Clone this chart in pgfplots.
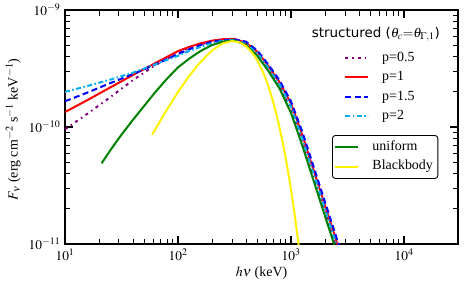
\documentclass[border=0pt]{standalone}
\usepackage{mathptmx}
\usepackage{fontspec}
\setmainfont{Liberation Serif}
\newfontfamily\dejavu{DejaVu Sans}
\usepackage{pgfplots}
\pgfplotsset{compat=1.18}
\definecolor{mypurple}{rgb}{0.5,0,0.5}
\definecolor{mygreen}{rgb}{0,0.5,0}
\pgfplotsset{legend image code/.code={\draw[#1] (0bp,0bp) -- (23bp,0bp);}}
\begin{document}
\fontsize{13.5}{16}\selectfont
\begin{tikzpicture}
\begin{axis}[
  at={(65bp,40bp)}, anchor=south west,
  scale only axis, width=393bp, height=234bp,
  xmode=log, ymode=log,
  xmin=10, xmax=3e4, ymin=1e-11, ymax=1e-9,
  xtick={10,100,1000,10000}, ytick={1e-11,1e-10,1e-9},
  tick align=inside,
  major tick length=8bp, minor tick length=5.5bp,
  tick style={black, line width=0.9bp},
  major tick style={line width=1.4bp},
  axis line style={line width=1.1bp},
  xlabel={$h\nu$ (keV)},
  ylabel={$F_\nu$ (erg cm$^{-2}$ s$^{-1}$ keV$^{-1}$)},
  every axis x label/.style={at={(axis description cs:0.5,-0.124)},anchor=center,font=\fontsize{14}{16}\selectfont},
  every axis y label/.style={at={(axis description cs:-0.132,0.49)},anchor=center,rotate=90,font=\fontsize{14}{16}\selectfont},
  legend style={at={(rel axis cs:0.71,0.838)}, anchor=north west, draw=none, fill=none,
    inner sep=0pt, row sep=0pt, column sep=10bp, font=\fontsize{14}{16}\selectfont,
    nodes={inner xsep=3bp, inner ysep=3.5bp, text height=9.5bp, text depth=3bp}},
  legend cell align=left,
]
\addplot[mypurple, line width=2bp, dash pattern=on 3bp off 4bp on 1.5bp off 4bp] coordinates {
(10,9.55e-11) (15.85,1.303e-10) (25.12,1.799e-10) (39.81,2.512e-10) (63.10,3.388e-10) (100,4.266e-10) (125.9,4.732e-10) (158.5,5.093e-10) (199.5,5.370e-10) (251.2,5.521e-10) (316.2,5.521e-10) (398.1,5.070e-10) (501.2,4.169e-10) (631.0,3.105e-10) (794.3,2.208e-10) (1000,1.400e-10) (1259,7.413e-11) (1585,3.715e-11) (1995,1.862e-11) (2512,9.33e-12) (3162,4.68e-12)};
\addlegendentry{p=0.5}
\addplot[red, line width=2bp] coordinates {
(10,1.343e-10) (15.85,1.702e-10) (25.12,2.178e-10) (39.81,2.780e-10) (63.10,3.524e-10) (100,4.457e-10) (125.9,4.842e-10) (158.5,5.188e-10) (199.5,5.470e-10) (251.2,5.636e-10) (316.2,5.662e-10) (398.1,5.248e-10) (501.2,4.416e-10) (631.0,3.311e-10) (794.3,2.399e-10) (1000,1.585e-10) (1259,8.51e-11) (1585,4.266e-11) (1995,2.138e-11) (2512,1.072e-11) (3162,5.37e-12)};
\addlegendentry{p=1}
\addplot[blue, line width=2bp, dash pattern=on 6bp off 3.5bp] coordinates {
(10,1.660e-10) (15.85,1.972e-10) (25.12,2.371e-10) (39.81,2.831e-10) (63.10,3.428e-10) (100,4.207e-10) (125.9,4.624e-10) (158.5,5.012e-10) (199.5,5.346e-10) (251.2,5.546e-10) (316.2,5.598e-10) (398.1,5.370e-10) (501.2,4.519e-10) (631.0,3.412e-10) (794.3,2.483e-10) (1000,1.652e-10) (1259,9.06e-11) (1585,4.571e-11) (1995,2.291e-11) (2512,1.148e-11) (3162,5.75e-12)};
\addlegendentry{p=1.5}
\addplot[cyan, line width=2bp, dash pattern=on 5bp off 2.5bp on 1.5bp off 2.5bp] coordinates {
(10,1.995e-10) (15.85,2.244e-10) (25.12,2.541e-10) (39.81,2.911e-10) (63.10,3.436e-10) (100,4.064e-10) (125.9,4.467e-10) (158.5,4.842e-10) (199.5,5.212e-10) (251.2,5.470e-10) (316.2,5.559e-10) (398.1,5.129e-10) (501.2,4.295e-10) (631.0,3.206e-10) (794.3,2.301e-10) (1000,1.489e-10) (1259,7.943e-11) (1585,3.981e-11) (1995,1.995e-11) (2512,1.0e-11) (3162,5.01e-12)};
\addlegendentry{p=2}
\addplot[mygreen, line width=2bp, forget plot] coordinates {
(21.09,4.898e-11) (25.12,6.310e-11) (31.62,8.610e-11) (39.81,1.148e-10) (50.12,1.514e-10) (63.10,1.995e-10) (79.43,2.570e-10) (100,3.236e-10) (125.9,3.846e-10) (158.5,4.467e-10) (199.5,5.012e-10) (251.2,5.370e-10) (316.2,5.495e-10) (398.1,5.012e-10) (501.2,4.074e-10) (631.0,3.006e-10) (794.3,2.118e-10) (1000,1.315e-10) (1259,6.918e-11) (1585,3.467e-11) (1995,1.738e-11) (2512,8.71e-12) (3162,4.37e-12)};
\addplot[yellow, line width=2bp, forget plot] coordinates {
(58.9,8.55e-11) (70,1.141e-10) (80,1.415e-10) (100,1.990e-10) (125,2.716e-10) (150,3.401e-10) (200,4.518e-10) (250,5.196e-10) (300,5.430e-10) (350,5.297e-10) (400,4.903e-10) (450,4.353e-10) (500,3.737e-10) (550,3.119e-10) (600,2.546e-10) (650,2.032e-10) (700,1.595e-10) (750,1.235e-10) (800,9.42e-11) (850,7.12e-11) (900,5.32e-11) (950,3.936e-11) (1000,2.890e-11) (1050,2.105e-11) (1100,1.524e-11) (1150,1.096e-11) (1200,7.85e-12)};
\node[anchor=center, inner sep=0pt] at (rel axis cs:0.791,0.897) {{\dejavu structured (}$\theta_c{=}\theta_{\Gamma,1}${\dejavu )}};
\end{axis}
\begin{axis}[
  at={(65bp,40bp)}, anchor=south west,
  scale only axis, width=393bp, height=234bp,
  xmode=log, ymode=log,
  xmin=10, xmax=3e4, ymin=1e-11, ymax=1e-9,
  hide axis,
  legend style={at={(rel axis cs:0.6794,0.4658)}, anchor=north west, draw=black, line width=0.9bp,
    rounded corners=3bp, fill=white, inner sep=2bp, row sep=0pt, column sep=10bp, font=\fontsize{14}{16}\selectfont,
    nodes={inner xsep=3bp, inner ysep=3.5bp, text height=9.5bp, text depth=3bp}},
  legend cell align=left,
]
\addlegendimage{mygreen, line width=2bp}
\addlegendentry{uniform}
\addlegendimage{yellow, line width=2bp}
\addlegendentry{Blackbody}
\end{axis}
\pgfresetboundingbox
\path[use as bounding box] (0,0) rectangle (465bp,284bp);
\end{tikzpicture}
\end{document}
